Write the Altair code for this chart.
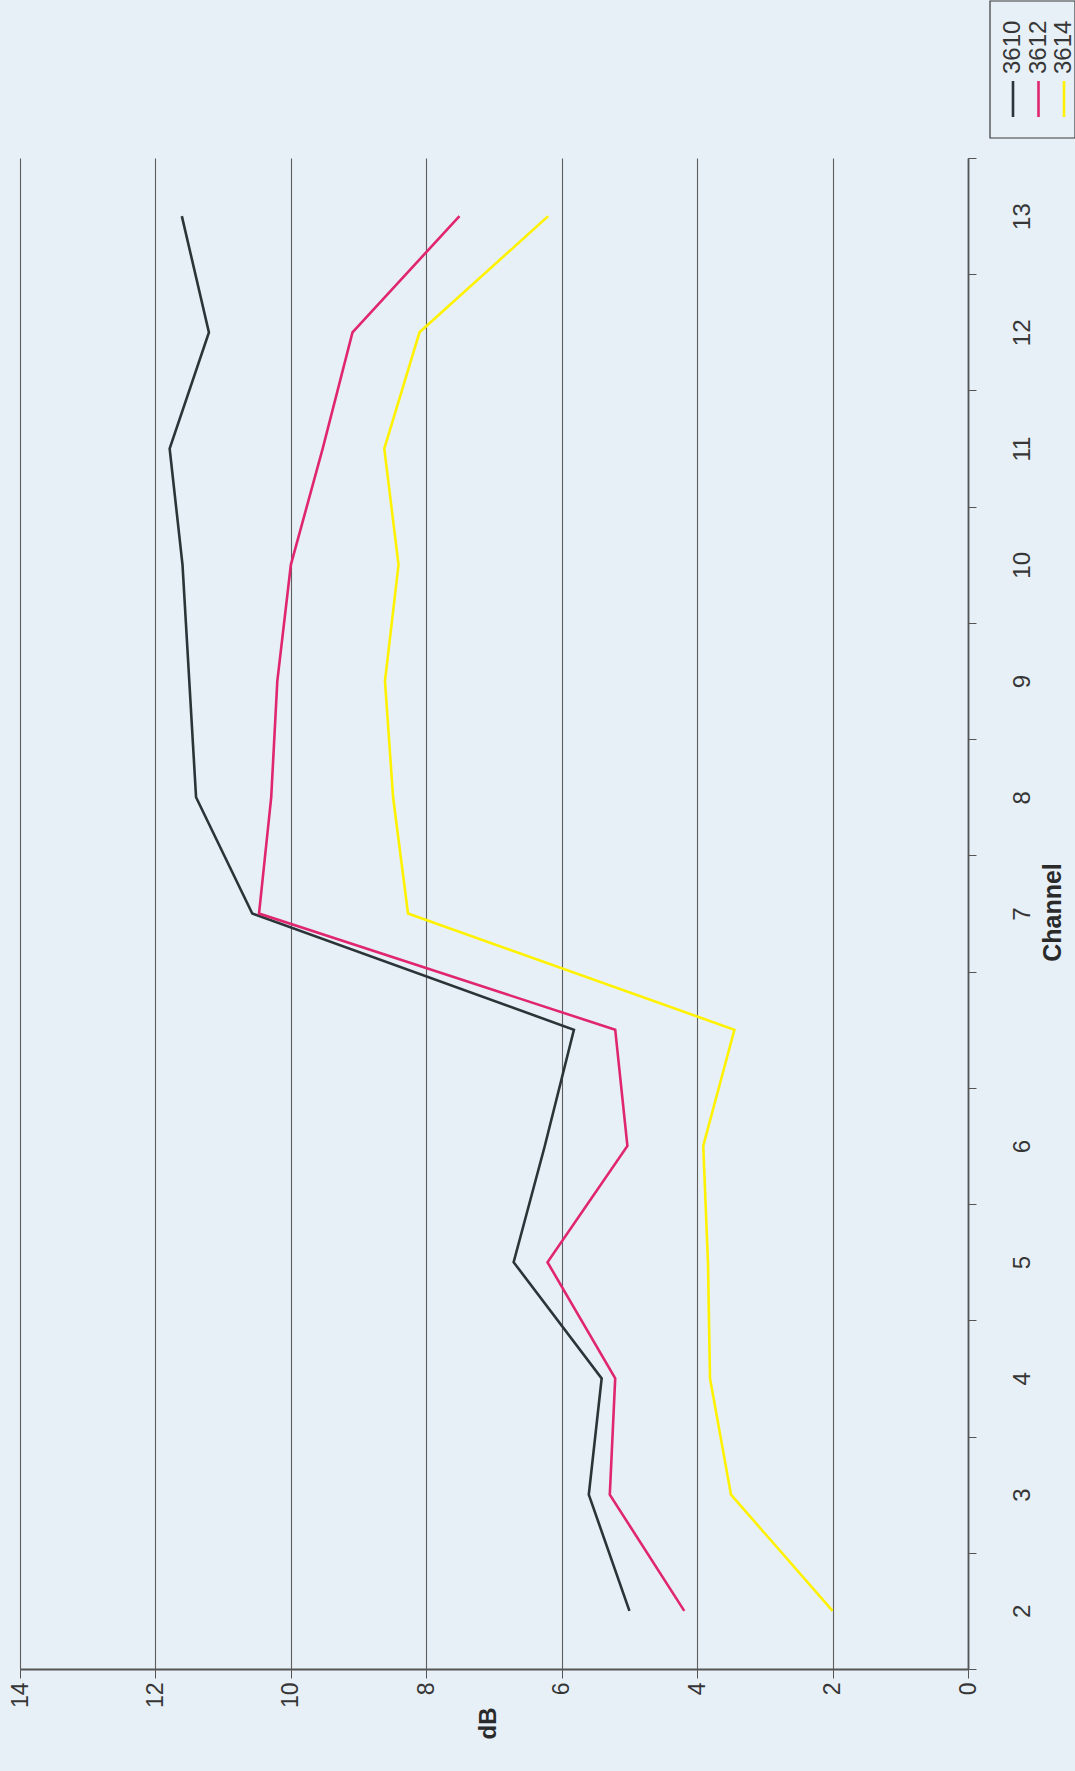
import altair as alt
import pandas as pd

# Channel slots from bottom to top; one slot between 6 and 7 carries no label
channel_labels = ["2", "3", "4", "5", "6", "", "7", "8", "9", "10", "11", "12", "13"]
series_names = ["3610", "3612", "3614"]
series_colors = ["#2b3538", "#e0266e", "#fff200"]

db_3610 = [5.0, 5.6, 5.41, 6.71, 6.25, 5.82, 10.57, 11.4, 11.5, 11.6, 11.79, 11.21, 11.61]
db_3612 = [4.19, 5.29, 5.21, 6.21, 5.03, 5.21, 10.47, 10.29, 10.2, 10.0, 9.53, 9.09, 7.51]
db_3614 = [2.0, 3.5, 3.81, 3.84, 3.91, 3.45, 8.27, 8.49, 8.61, 8.41, 8.62, 8.10, 6.20]

db_ticks = [0, 2, 4, 6, 8, 10, 12, 14]

W, H = 948, 1511
FONT = "Liberation Sans"
TEXT_COLOR = "#363636"
LINE_COLOR = "#555555"

slots = list(range(len(channel_labels)))
rows = []
for name, values in zip(series_names, [db_3610, db_3612, db_3614]):
    for slot, v in zip(slots, values):
        rows.append({"series": name, "slot": slot, "dB": v})
df = pd.DataFrame(rows)

label_expr = "[" + ",".join("'" + c + "'" for c in channel_labels) + "][datum.value]"

color_enc = alt.Color(
    "series:N",
    scale=alt.Scale(domain=series_names, range=series_colors),
    legend=None,
)

x_enc = alt.X(
    "dB:Q",
    scale=alt.Scale(domain=[0, 14], reverse=True, nice=False),
    axis=alt.Axis(
        orient="bottom",
        values=db_ticks,
        format="d",
        title="dB",
        grid=True,
        gridColor="#5e5e5e",
        gridWidth=1.1,
        domainColor=LINE_COLOR,
        domainWidth=1.8,
        tickColor=LINE_COLOR,
        tickSize=9,
        labelAngle=270,
        labelAlign="right",
        labelBaseline="middle",
        labelPadding=4,
        labelFlush=False,
        labelOverlap=False,
        labelFont=FONT,
        labelFontSize=23,
        labelColor=TEXT_COLOR,
        titleAngle=270,
        titleAlign="center",
        titleBaseline="middle",
        titleX=468,
        titleY=54,
        titleFont=FONT,
        titleFontSize=24,
        titleFontWeight="bold",
        titleColor="#2a2a2a",
    ),
)

y_enc = alt.Y(
    "slot:O",
    scale=alt.Scale(type="band", domain=slots[::-1], paddingInner=0, paddingOuter=0),
    bandPosition=0.5,
    axis=alt.Axis(
        orient="right",
        title="Channel",
        labelExpr=label_expr,
        tickBand="extent",
        grid=False,
        domainColor=LINE_COLOR,
        domainWidth=1.8,
        tickColor=LINE_COLOR,
        tickSize=8,
        labelAngle=270,
        labelAlign="center",
        labelBaseline="top",
        labelPadding=34,
        labelOverlap=False,
        labelFont=FONT,
        labelFontSize=24,
        labelColor=TEXT_COLOR,
        titleAngle=270,
        titleAlign="center",
        titleBaseline="middle",
        titleX=84,
        titleY=754,
        titleFont=FONT,
        titleFontSize=25,
        titleFontWeight="bold",
        titleColor="#2a2a2a",
    ),
)

lines = alt.Chart(df).mark_line(strokeWidth=2.6).encode(
    x=x_enc,
    y=y_enc,
    color=color_enc,
    order=alt.Order("slot:Q"),
)

# Legend drawn in the same rotated orientation as the rest of the text
legend_df = pd.DataFrame({"series": series_names})
legend_x = alt.X(
    "series:N",
    scale=alt.Scale(type="point", domain=series_names, range=[993, 1044], padding=0),
    axis=None,
)

legend_box = alt.Chart(alt.Data(values=[{"box": 1}])).mark_rect(
    filled=False, stroke="#3a3a3a", strokeWidth=1.2
).encode(
    x=alt.value(970), x2=alt.value(1055), y=alt.value(-157), y2=alt.value(-20)
)

legend_swatch = alt.Chart(legend_df).mark_rule(strokeWidth=2.6).encode(
    x=legend_x,
    y=alt.value(-77),
    y2=alt.value(-41),
    color=color_enc,
)

legend_text = alt.Chart(legend_df).mark_text(
    angle=270, align="left", baseline="middle", font=FONT, fontSize=24, color=TEXT_COLOR
).encode(
    x=legend_x,
    y=alt.value(-84),
    text="series:N",
)

chart = (
    alt.layer(lines, legend_box, legend_swatch, legend_text)
    .resolve_scale(x="independent")
    .properties(
        width=W,
        height=H,
        autosize=alt.AutoSizeParams(type="none"),
        padding={"left": 20, "top": 158, "right": 107, "bottom": 102},
        background="#e7f0f7",
    )
    .configure_view(strokeWidth=0)
)

chart.save("out.html", embed_options={"renderer": "svg", "actions": False})
